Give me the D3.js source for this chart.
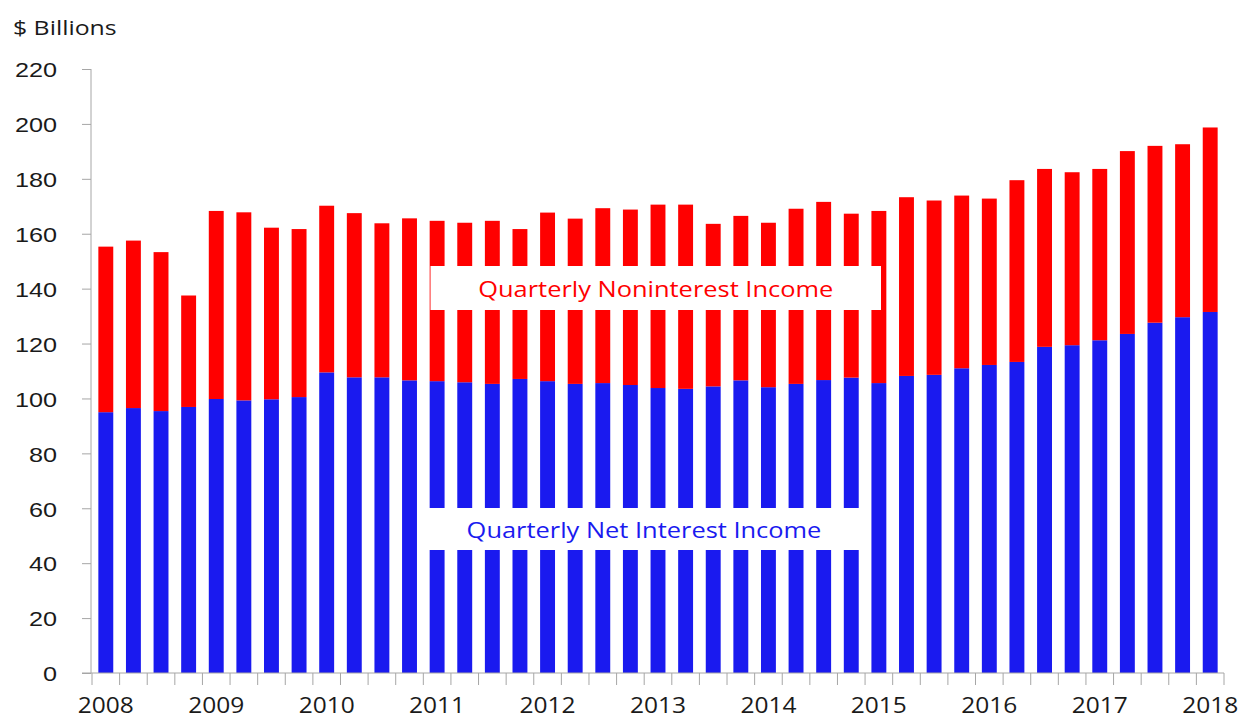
<!DOCTYPE html>
<html>
<head>
<meta charset="utf-8">
<script src="https://cdn.jsdelivr.net/npm/d3@7"></script>
<style>
    body { margin: 0; background: #fff; }
    svg { display: block; font-family: "Open Sans", "Noto Sans", sans-serif; }
    .axis path, .axis line { stroke: #a6a6a6; }
    .axis text { fill: #1a1a1a; }
</style>
</head>
<body>
<svg id="chart" width="1240" height="719"></svg>
<script>
const YEARS = ['2008', '2009', '2010', '2011', '2012', '2013', '2014', '2015', '2016', '2017', '2018'];

// one entry per quarter, 2008 Q1 .. 2018 Q1
const quarters = [];
YEARS.forEach(y => ['Q1', 'Q2', 'Q3', 'Q4'].forEach(q => quarters.push(y + ' ' + q)));
quarters.splice(41);

// $ billions
const netInterestIncome = [
    95.0, 96.5, 95.4, 96.9, 99.8, 99.3, 99.7, 100.5, 109.5, 107.7,
    107.7, 106.6, 106.3, 105.9, 105.3, 107.1, 106.3, 105.3, 105.6, 104.9,
    103.8, 103.5, 104.4, 106.6, 104.1, 105.3, 106.7, 107.6, 105.6, 108.2,
    108.6, 111.0, 112.2, 113.3, 118.8, 119.4, 121.2, 123.5, 127.6, 129.6,
    131.5
];
const noninterestIncome = [
    60.3, 61.0, 57.9, 40.6, 68.5, 68.5, 62.5, 61.2, 60.7, 59.8,
    56.1, 59.0, 58.4, 58.1, 59.4, 54.6, 61.4, 60.2, 63.7, 63.9,
    66.8, 67.1, 59.2, 59.9, 59.9, 63.8, 64.9, 59.7, 62.7, 65.1,
    63.5, 62.9, 60.6, 66.2, 64.8, 63.0, 62.4, 66.6, 64.4, 63.0,
    67.2
];
const yTicks = [0, 20, 40, 60, 80, 100, 120, 140, 160, 180, 200, 220];

const svg = d3.select('#chart');
const plotLeft = 92, plotRight = 1224, plotTop = 69, plotBottom = 673;

// the original text is set wide; stretch glyphs horizontally
function widen(sel, k) {
    sel.each(function() {
        const len = this.getComputedTextLength();
        d3.select(this)
            .attr('textLength', len * k)
            .attr('lengthAdjust', 'spacingAndGlyphs');
    });
}

const x = d3.scaleBand()
    .domain(quarters)
    .range([plotLeft, plotRight])
    .paddingInner(0.46)
    .paddingOuter(0.23);

const y = d3.scaleLinear()
    .domain([0, 220])
    .range([plotBottom, plotTop]);

// stacked bars
const rows = quarters.map((q, i) => ({ q, net: netInterestIncome[i], non: noninterestIncome[i] }));
const stack = d3.stack().keys(['net', 'non'])(rows);
const colors = { net: '#1a1aef', non: '#ff0000' };

svg.append('g')
    .selectAll('g')
    .data(stack)
    .join('g')
    .attr('fill', s => colors[s.key])
    .selectAll('rect')
    .data(s => s)
    .join('rect')
    .attr('x', d => x(d.data.q))
    .attr('width', x.bandwidth())
    .attr('y', d => y(d[1]))
    .attr('height', d => y(d[0]) - y(d[1]));

// y axis
const yAxis = svg.append('g')
    .attr('class', 'axis')
    .attr('transform', `translate(${plotLeft - 1},0)`)
    .call(d3.axisLeft(y).tickValues(yTicks).tickSize(9).tickPadding(25).tickSizeOuter(0));
yAxis.select('.domain').attr('d', `M0,${plotTop}V${plotBottom}`);
yAxis.selectAll('text')
    .attr('font-size', 21)
    .attr('dy', '0.37em')
    .call(widen, 1.2);

// x axis: ticks between quarters, year labels under Q1 bars
const step = x.step();
const boundaries = d3.range(quarters.length + 1).map(i => plotLeft + i * step);
const xAxis = svg.append('g').attr('class', 'axis');
xAxis.append('path')
    .attr('d', `M${plotLeft - 10},${plotBottom}H${plotRight}`)
    .attr('fill', 'none');
xAxis.selectAll('line')
    .data(boundaries)
    .join('line')
    .attr('x1', d => d).attr('x2', d => d)
    .attr('y1', plotBottom).attr('y2', plotBottom + 12);
xAxis.selectAll('text')
    .data(quarters.filter(q => q.endsWith('Q1')))
    .join('text')
    .attr('x', q => x(q) + x.bandwidth() / 2)
    .attr('y', 712.5)
    .attr('text-anchor', 'middle')
    .attr('font-size', 21.5)
    .text(q => q.slice(0, 4))
    .call(widen, 1.14);

// unit label
svg.append('text')
    .attr('x', 13)
    .attr('y', 34.5)
    .attr('font-size', 20)
    .attr('fill', '#1a1a1a')
    .text('$ Billions')
    .call(widen, 1.24);

// series labels on white boxes
const labels = [
    { text: 'Quarterly Noninterest Income', color: '#ff0000', x0: 430.5, x1: 881, y0: 266, y1: 310, base: 297 },
    { text: 'Quarterly Net Interest Income', color: '#1a1aef', x0: 417, x1: 871, y0: 508, y1: 550, base: 537.5 }
];
const lab = svg.append('g').selectAll('g').data(labels).join('g');
lab.append('rect')
    .attr('x', d => d.x0).attr('y', d => d.y0)
    .attr('width', d => d.x1 - d.x0).attr('height', d => d.y1 - d.y0)
    .attr('fill', '#fff');
lab.append('text')
    .attr('x', d => (d.x0 + d.x1) / 2)
    .attr('y', d => d.base)
    .attr('text-anchor', 'middle')
    .attr('font-size', 21)
    .attr('fill', d => d.color)
    .text(d => d.text)
    .call(widen, 1.21);
</script>
</body>
</html>
